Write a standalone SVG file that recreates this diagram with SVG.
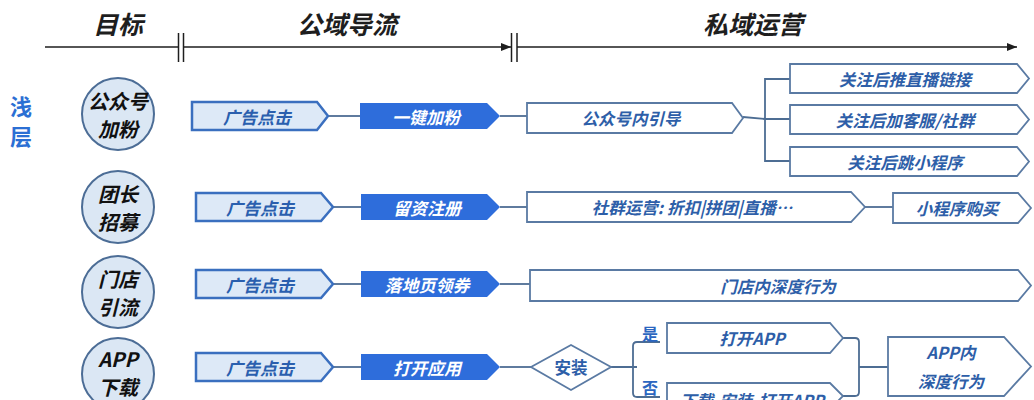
<svg xmlns="http://www.w3.org/2000/svg" width="1034" height="400" viewBox="0 0 1034 400">
<defs>
<style>
text{font-family:"Noto Sans CJK SC","Noto Sans",sans-serif;font-weight:700;text-anchor:middle;dominant-baseline:central}
.hdr{font-size:25px;font-style:italic;fill:#1e1e1e}
.lvl{font-size:22px;fill:#2b6fd4}
.ct{font-size:20px;font-style:italic;fill:#111}
.lt{font-size:17px;font-style:italic;fill:#2a5fae}
.dt{font-size:17px;font-style:italic;fill:#fff}
.wt{font-size:16.5px;font-style:italic;fill:#2d5ea8}
.yn{font-size:16px;fill:#2b66c0}
.circ{fill:#dbe7f4;stroke:#4c6d96;stroke-width:2}
.lb{fill:#dde9f7;stroke:#3a6fbf;stroke-width:2.5}
.db{fill:#2e6ddb}
.wb{fill:#fff;stroke:#5a7aa3;stroke-width:1.8}
.cn{fill:none;stroke:#4d6d93;stroke-width:1.8}
.ax{stroke:#1e1e1e;stroke-width:1.5;fill:none}
</style>
<marker id="ah" viewBox="0 0 10 8" refX="10" refY="4" markerWidth="10" markerHeight="8" markerUnits="userSpaceOnUse" orient="auto">
<path d="M0,0 L10,4 L0,8 Z" fill="#1e1e1e"/>
</marker>
<linearGradient id="vl" x1="0" y1="0" x2="0" y2="1">
<stop offset="0" stop-color="#e3e9f1"/>
<stop offset="1" stop-color="#b8cbe4"/>
</linearGradient>
</defs>
<rect width="1034" height="400" fill="#fff"/>

<g id="header">
<text class="hdr" x="118" y="23">目标</text>
<text class="hdr" x="347" y="23">公域导流</text>
<text class="hdr" x="753" y="23">私域运营</text>
<line class="ax" x1="45" y1="47" x2="178" y2="47"/>
<line class="ax" x1="178.5" y1="33" x2="178.5" y2="62"/>
<line class="ax" x1="183.5" y1="33" x2="183.5" y2="62"/>
<line class="ax" x1="184" y1="47" x2="511" y2="47" marker-end="url(#ah)"/>
<line class="ax" x1="511.5" y1="33" x2="511.5" y2="62"/>
<line class="ax" x1="517" y1="33" x2="517" y2="62"/>
<line class="ax" x1="517" y1="47" x2="1017" y2="47" marker-end="url(#ah)"/>
</g>

<g id="level">
<text class="lvl" x="21" y="105">浅</text>
<text class="lvl" x="21" y="135">层</text>
<line x1="55" y1="83" x2="55" y2="400" stroke="url(#vl)" stroke-width="3"/>
</g>

<g id="goal-1"><circle class="circ" cx="118" cy="114" r="36"/><text class="ct" x="118" y="100">公众号</text><text class="ct" x="118" y="128">加粉</text></g>
<g id="goal-2"><circle class="circ" cx="118" cy="207" r="36"/><text class="ct" x="118" y="193">团长</text><text class="ct" x="118" y="221">招募</text></g>
<g id="goal-3"><circle class="circ" cx="118" cy="292" r="36"/><text class="ct" x="118" y="278">门店</text><text class="ct" x="118" y="306">引流</text></g>
<g id="goal-4"><circle class="circ" cx="118" cy="374" r="36"/><text class="ct" x="118" y="358">APP</text><text class="ct" x="118" y="386">下载</text></g>

<g id="connectors">
<line class="cn" x1="328" y1="116" x2="360" y2="116"/>
<line class="cn" x1="500" y1="116" x2="527" y2="116"/>
<path class="cn" d="M743,117 L765,119 H790 M790,79 H765 V161 H790"/>
<line class="cn" x1="333" y1="207" x2="361" y2="207"/>
<line class="cn" x1="500" y1="207" x2="527" y2="207"/>
<line class="cn" x1="865" y1="207" x2="893" y2="207"/>
<line class="cn" x1="333" y1="284" x2="361" y2="284"/>
<line class="cn" x1="500" y1="284" x2="530" y2="284"/>
<line class="cn" x1="333" y1="367" x2="361" y2="367"/>
<line class="cn" x1="500" y1="367" x2="531" y2="367"/>
<path class="cn" d="M611,367 H637 M660,342 H637 Q633,342 633,346 V393 Q633,397 637,397 H660"/>
<path class="cn" d="M843,338 H855 Q859,338 859,342 V392 Q859,396 855,396 H843 M859,367 H888"/>
</g>

<g id="ad-1"><path class="lb" d="M192,102 H317 L328,116 L317,130 H192 Z"/><text class="lt" x="257" y="116">广告点击</text></g>
<g id="act-1"><path class="db" d="M360,103 H487 L500,116 L487,129 H360 Z"/><text class="dt" x="426" y="116">一键加粉</text></g>
<g id="priv-1"><path class="wb" d="M527,103 H732 L743,118 L732,133 H527 Z"/><text class="wt" x="631" y="118">公众号内引导</text></g>
<g id="priv-1a"><path class="wb" d="M790,64 H1017 L1029,78.5 L1017,93 H790 Z"/><text class="wt" x="905" y="78.5">关注后推直播链接</text></g>
<g id="priv-1b"><path class="wb" d="M790,105 H1017 L1029,119.5 L1017,134 H790 Z"/><text class="wt" x="905" y="119.5">关注后加客服/社群</text></g>
<g id="priv-1c"><path class="wb" d="M790,147 H1017 L1029,161.5 L1017,176 H790 Z"/><text class="wt" x="905" y="161.5">关注后跳小程序</text></g>

<g id="ad-2"><path class="lb" d="M196,193 H321 L333,207 L321,221 H196 Z"/><text class="lt" x="260" y="207">广告点击</text></g>
<g id="act-2"><path class="db" d="M361,194 H487 L500,207 L487,220 H361 Z"/><text class="dt" x="427" y="207">留资注册</text></g>
<g id="priv-2"><path class="wb" d="M527,192 H851 L865,207 L851,222 H527 Z"/><text class="wt" x="692" y="207">社群运营: 折扣|拼团|直播…</text></g>
<g id="priv-2b"><path class="wb" d="M893,193 H1018 L1031,208 L1018,223 H893 Z"/><text class="wt" x="957" y="208">小程序购买</text></g>

<g id="ad-3"><path class="lb" d="M196,270 H321 L333,284 L321,298 H196 Z"/><text class="lt" x="260" y="284">广告点击</text></g>
<g id="act-3"><path class="db" d="M361,271 H487 L500,284 L487,297 H361 Z"/><text class="dt" x="427" y="284">落地页领券</text></g>
<g id="priv-3"><path class="wb" d="M530,270 H1018 L1031,285.5 L1018,301 H530 Z"/><text class="wt" x="778" y="285.5">门店内深度行为</text></g>

<g id="ad-4"><path class="lb" d="M196,353 H321 L333,367 L321,381 H196 Z"/><text class="lt" x="260" y="367">广告点击</text></g>
<g id="act-4"><path class="db" d="M361,354 H487 L500,367 L487,380 H361 Z"/><text class="dt" x="427" y="367">打开应用</text></g>
<g id="install"><path class="wb" d="M531,367 L571,345 L611,367 L571,390 Z"/><text class="wt" x="571" y="367" style="font-style:normal">安装</text></g>
<g id="yes-label"><text class="yn" x="650" y="333">是</text></g>
<g id="no-label"><text class="yn" x="650" y="387">否</text></g>
<g id="open-app"><path class="wb" d="M667,323 H830 L843,338 L830,353 H667 Z"/><text class="wt" x="752" y="338">打开APP</text></g>
<g id="download"><path class="wb" d="M667,383 H830 L843,396 L830,409 H667 Z"/><text class="wt" x="752" y="400">下载-安装-打开APP</text></g>
<g id="app-deep"><path class="wb" d="M888,337 H1004 L1031,366.5 L1004,396 H888 Z"/><text class="wt" x="951" y="352">APP内</text><text class="wt" x="951" y="381">深度行为</text></g>
</svg>
